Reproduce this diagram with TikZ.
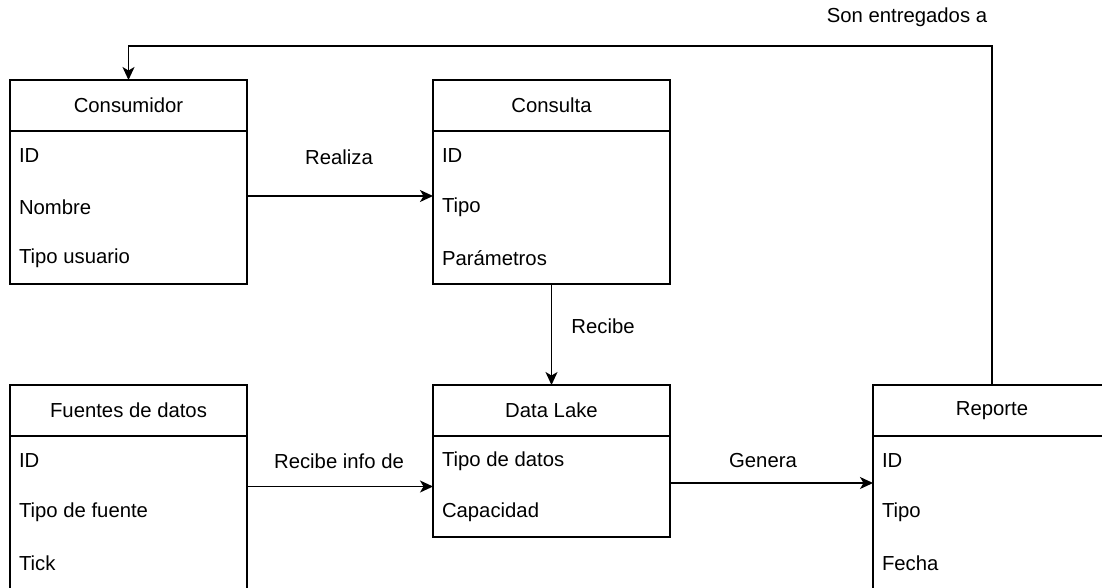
\documentclass[tikz,border=0pt]{standalone}
\usepackage{fontspec}
\setmainfont{Liberation Sans}
\usetikzlibrary{arrows.meta,calc}
\begin{document}
\begin{tikzpicture}[x=1pt,y=-1pt,
  every node/.style={font=\fontsize{20.3}{24}\selectfont, inner sep=0pt, outer sep=0pt},
  hdr/.style={draw, line width=1.5pt, fill=white, minimum width=237pt, minimum height=51pt, anchor=north west},
  body/.style={draw, line width=1.5pt, fill=white, minimum width=237pt, anchor=north},
  fld/.style={anchor=west},
  arr/.style={line width=1.5pt, -{Stealth[length=13pt,width=12pt,inset=3.5pt]}}
]
\useasboundingbox (0,0) rectangle (1102,587);

% Consumidor
\node[hdr] (consH) at (10,80) {Consumidor};
\node[body, minimum height=153pt] (consB) at (consH.south) {};
\node[fld] (consF1) at (19,156) {ID};
\node[fld] (consF2) at (19,207) {Nombre};
\node[fld] (consF3) at (19,258) {Tipo usuario};

% Consulta
\node[hdr] (qryH) at (433,80) {Consulta};
\node[body, minimum height=153pt] (qryB) at (qryH.south) {};
\node[fld] (qryF1) at (442,156) {ID};
\node[fld] (qryF2) at (442,207) {Tipo};
\node[fld] (qryF3) at (442,258) {Parámetros};

% Fuentes de datos
\node[hdr] (srcH) at (10,385) {Fuentes de datos};
\node[body, minimum height=153pt] (srcB) at (srcH.south) {};
\node[fld] (srcF1) at (19,461) {ID};
\node[fld] (srcF2) at (19,512) {Tipo de fuente};
\node[fld] (srcF3) at (19,563) {Tick};

% Data Lake
\node[hdr] (lakeH) at (433,385) {Data Lake};
\node[body, minimum height=101pt] (lakeB) at (lakeH.south) {};
\node[fld] (lakeF1) at (442,461) {Tipo de datos};
\node[fld] (lakeF2) at (442,512) {Capacidad};

% Reporte
\node[hdr, minimum width=238pt] (repH) at (873,385) {Reporte};
\node[body, minimum width=238pt, minimum height=153pt] (repB) at (repH.south) {};
\node[fld] (repF1) at (882,461) {ID};
\node[fld] (repF2) at (882,512) {Tipo};
\node[fld] (repF3) at (882,563) {Fecha};

% connector heights
\coordinate (yRealiza) at (0,196);
\coordinate (yGenera) at (0,483);
\coordinate (yTop) at (0,46);

% relations
\draw[arr] (consB.east |- yRealiza) -- (qryB.west |- yRealiza);
\draw[arr] (qryB.south) -- (lakeH.north);
\draw[arr] (srcB.east |- lakeB.west) -- (lakeB.west);
\draw[arr] (lakeB.east |- yGenera) -- (repB.west |- yGenera);
\draw[arr] (repH.north) -- (repH.north |- yTop) -| (consH.north);

% relation labels
\node (lRealiza) at (339,157) {Realiza};
\node (lRecibe) at (603,326) {Recibe};
\node (lInfo) at (339,461) {Recibe info de};
\node (lGenera) at (763,461) {Genera};
\node (lEntrega) at (907,17) {Son entregados a};
\end{tikzpicture}
\end{document}
